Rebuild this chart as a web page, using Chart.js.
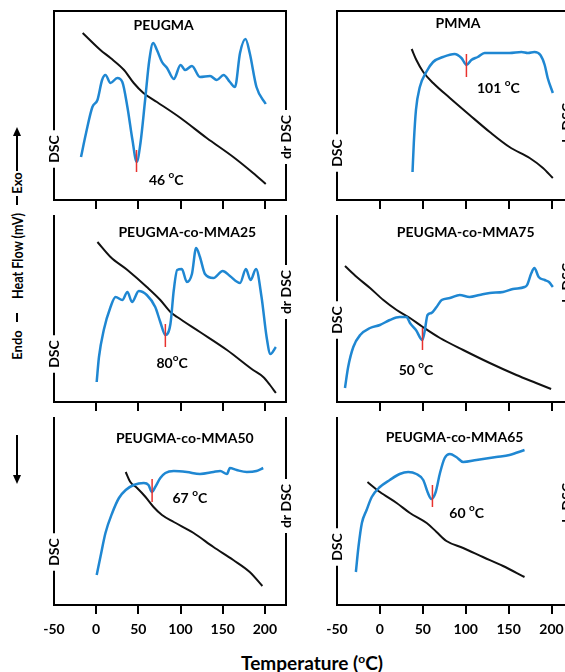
<!DOCTYPE html>
<html>
<head>
<meta charset="utf-8">
<script src="https://cdn.jsdelivr.net/npm/chart.js@4.4.1/dist/chart.umd.min.js"></script>
<style>
  html, body { margin: 0; padding: 0; width: 565px; height: 672px; overflow: hidden; background: #fff; }
  body { position: relative; font-family: Lato, "Open Sans", sans-serif; color: #000; }
  .pane { position: absolute; }
  .rot { position: absolute; transform: translate(-50%, -50%) rotate(-90deg); white-space: nowrap; font-weight: bold; line-height: 1; font-size: 13px; }
  .rot.big { font-size: 15px; transform: translate(-50%, -50%) rotate(-90deg) scale(0.84, 1); }
  .bar { position: absolute; background: #000; }
  .head-up { position: absolute; width: 0; height: 0; border-left: 4px solid transparent; border-right: 4px solid transparent; border-bottom: 9px solid #000; }
  .head-down { position: absolute; width: 0; height: 0; border-left: 4px solid transparent; border-right: 4px solid transparent; border-top: 9px solid #000; }
  .xtitle { position: absolute; left: 312px; top: 662px; transform: translate(-50%, -50%); font-weight: bold; font-size: 19px; white-space: nowrap; }
  sup { font-size: 12px; vertical-align: 7px; line-height: 0; }
</style>
</head>
<body>

<div class="bar" style="left:16px; top:134px; width:2px; height:37px;"></div>
<div class="head-up" style="left:13px; top:127px;"></div>
<div class="rot" style="left:17px; top:183px;">Exo</div>
<div class="bar" style="left:16px; top:196px; width:2px; height:9px;"></div>
<div class="rot big" style="left:17px; top:256px;">Heat Flow (mV)</div>
<div class="bar" style="left:16px; top:313px; width:2px; height:9px;"></div>
<div class="rot" style="left:17px; top:345px;">Endo</div>
<div class="bar" style="left:16px; top:435px; width:2px; height:41px;"></div>
<div class="head-down" style="left:13px; top:475px;"></div>
<div class="xtitle">Temperature (<sup>o</sup>C)</div>

<script>
// PEUGMA
const peugmaT = [-18, -12, -4.5, 1.5, 7, 11, 17, 25, 31, 37, 43, 48, 52.5, 58, 63, 67.5, 72, 78, 84, 92, 100, 105.5, 113.5, 123, 135, 143, 151, 158.5, 164.5, 170.5, 177, 182, 190, 201];
const peugmaDsc = [43, 67, 93, 100, 120, 125, 117, 122, 118, 93, 60, 38, 57, 100, 140, 157, 150, 138, 132, 121, 135, 130, 134, 123, 124, 120, 125, 118, 113, 147, 161, 147, 113, 96];
const peugmaDrT = [-16, 5, 17, 33, 44.5, 56, 72, 100, 131, 162.5, 186, 201];
const peugmaDr = [167, 150, 142, 130, 117, 107, 98, 82, 62, 43, 27, 16];

// PMMA
const pmmaT = [38, 39.5, 42, 46.5, 54, 62, 73.5, 87, 95, 101, 106.5, 114, 122, 136, 151, 165, 172.5, 180, 187, 192, 195.5, 201.5];
const pmmaDsc = [28, 57, 90, 113, 128, 138, 143, 146, 142, 135, 140, 143, 147, 147, 147, 148, 147, 148, 145, 135, 122, 107];
const pmmaDrT = [37, 42.5, 50.5, 62, 81.5, 104.5, 128, 151, 174.5, 190, 201.5];
const pmmaDr = [151, 140, 128, 117, 102, 85, 68, 53, 42, 32, 22];

// PEUGMA-co-MMA25
const mma25T = [0.6, 3.3, 9, 17, 23, 31, 37, 42.5, 50.5, 60, 70, 76, 82, 88, 92, 96, 101.5, 107.5, 113.5, 118.5, 123, 129, 139, 150, 158.5, 170.5, 177.5, 183, 189.5, 196, 202, 206.5, 213];
const mma25Dsc = [20, 45, 72, 95, 105, 102, 110, 100, 111, 107, 95, 80, 67, 78, 112, 132, 133, 120, 128, 154, 145, 128, 124, 131, 126, 119, 133, 122, 133, 105, 65, 48, 55];
const mma25DrT = [1.5, 17, 37, 60, 76, 88, 96, 123, 155, 186, 198, 206, 213];
const mma25Dr = [160, 145, 132, 115, 102, 90, 85, 70, 52, 32, 25, 17, 9];

// PEUGMA-co-MMA75
const mma75T = [-40.7, -37, -31, -23, -11.5, 0, 11.5, 23, 31, 35, 42, 49.5, 52, 55.5, 60, 66, 72, 81.5, 93, 104.5, 116, 128, 143.5, 155, 168.5, 171.5, 176.5, 180, 185, 192, 197, 201.5];
const mma75Dsc = [14, 35, 55, 67, 74, 77, 82, 85, 85, 79, 72, 62, 70, 87, 89, 95, 102, 104, 107, 105, 107, 109, 110, 113, 115, 117, 129, 134, 125, 122, 120, 115];
const mma75DrT = [-40.7, -27, -11.5, 4, 19.5, 35, 50, 70, 97, 128, 159, 182, 199.5];
const mma75Dr = [136, 125, 114, 102, 92, 84, 75, 64, 52, 39, 27, 19, 13];

// PEUGMA-co-MMA50
const mma50T = [0.6, 5, 11, 19, 27, 35, 44.5, 56.5, 62, 66, 70, 76, 82, 92, 107.5, 123, 139, 147, 155, 158.5, 166.5, 178.5, 190, 198];
const mma50Dsc = [30, 48, 72, 92, 107, 115, 120, 122, 120, 113, 118, 127, 132, 134, 133, 131, 133, 134, 131, 137, 135, 133, 134, 137];
const mma50DrT = [35, 40.5, 48.5, 58.5, 68, 78, 92, 115.5, 139, 162.5, 182, 197];
const mma50Dr = [133, 123, 117, 108, 98, 90, 83, 72, 58, 45, 33, 19];

// PEUGMA-co-MMA65
const mma65T = [-28, -25, -21, -15.5, -9.5, 0, 11.5, 23, 33, 42.5, 50.5, 55.5, 60, 65, 70, 75.5, 81.5, 89, 97, 112.5, 135.5, 151, 168.5];
const mma65Dsc = [33, 58, 82, 95, 108, 118, 125, 131, 133, 131, 125, 113, 106, 113, 132, 147, 151, 148, 143, 145, 148, 150, 155];
const mma65DrT = [-14.5, 0, 19.5, 35, 54.5, 66, 77.5, 97, 120, 143.5, 168.5];
const mma65Dr = [123, 113, 102, 92, 82, 73, 64, 57, 48, 39, 28];

// glass transition: label text and red marker (temperature, low, high)
const tgLabels = ['46 ', '101 ', '80', '50 ', '67 ', '60 '];
const tgMarkT = [47.8, 100.8, 82, 49.6, 66.3, 61.2];
const tgMarkLo = [28, 123, 55, 52, 103, 98];
const tgMarkHi = [50, 146, 78, 74, 126, 120];

const titles = ['PEUGMA', 'PMMA', 'PEUGMA-co-MMA25', 'PEUGMA-co-MMA75', 'PEUGMA-co-MMA50', 'PEUGMA-co-MMA65'];
const tickLabelsX = [-50, 0, 50, 100, 150, 200];

const series = [
  [peugmaT, peugmaDsc, peugmaDrT, peugmaDr],
  [pmmaT, pmmaDsc, pmmaDrT, pmmaDr],
  [mma25T, mma25Dsc, mma25DrT, mma25Dr],
  [mma75T, mma75Dsc, mma75DrT, mma75Dr],
  [mma50T, mma50Dsc, mma50DrT, mma50Dr],
  [mma65T, mma65Dsc, mma65DrT, mma65Dr]
];

// layout
const cols = [
  { left: 54, right: 286, min: -50, max: 225 },
  { left: 337, right: 567, min: -50, max: 218 }
];
const rows = [
  { top: 11, bottom: 200 },
  { top: 216, bottom: 402 },
  { top: 418, bottom: 605 }
];
// label placement in data units: [x, y]
const titlePos = [[80, 175], [91, 177], [108, 170], [100, 170], [105, 167], [87, 168]];
const tgPos = [[83, 20], [138, 112], [90, 39], [42, 32], [111, 107], [101, 92]];
const dscLabelY = [51, 47, 48, 82, 53, 58];
const drLabelY = [63, 75, 110, 117, 99, 100];

const BLUE = '#1f87d2';
const FONT = 'Lato, "Open Sans", sans-serif';
const PAD = 20;

Chart.defaults.font.family = FONT;
Chart.defaults.color = '#000';

function pts(xs, ys) {
  return xs.map((x, i) => ({ x: x, y: ys[i] }));
}

function rotText(ctx, text, x, y) {
  ctx.save();
  ctx.translate(x, y);
  ctx.rotate(-Math.PI / 2);
  ctx.textAlign = 'center';
  ctx.textBaseline = 'middle';
  ctx.fillText(text, 0, 0);
  ctx.restore();
}

function vLineGap(ctx, x, top, bottom, gapCenter, gapHalf) {
  ctx.beginPath();
  ctx.moveTo(x, top);
  ctx.lineTo(x, gapCenter - gapHalf);
  ctx.moveTo(x, gapCenter + gapHalf);
  ctx.lineTo(x, bottom);
  ctx.stroke();
}

function degLabel(ctx, num, x, y) {
  const big = 'bold 14px ' + FONT, small = 'bold 10px ' + FONT;
  ctx.font = big;
  const w1 = ctx.measureText(num).width, w3 = ctx.measureText('C').width;
  ctx.font = small;
  const w2 = ctx.measureText('o').width;
  let cx = x - (w1 + w2 + w3) / 2;
  ctx.textAlign = 'left';
  ctx.textBaseline = 'middle';
  ctx.font = big;
  ctx.fillText(num, cx, y);
  cx += w1;
  ctx.font = small;
  ctx.fillText('o', cx, y - 5);
  cx += w2;
  ctx.font = big;
  ctx.fillText('C', cx, y);
}

const framePlugin = {
  id: 'frame',
  afterDraw(chart, args, o) {
    const { ctx, chartArea: a } = chart;
    const x = chart.scales.x, y = chart.scales.y;
    ctx.save();
    ctx.strokeStyle = '#000';
    ctx.fillStyle = '#000';
    ctx.lineWidth = 2;
    ctx.lineCap = 'square';
    ctx.font = 'bold 14px ' + FONT;

    const dy = y.getPixelForValue(o.dscY);
    const dh = ctx.measureText('DSC').width / 2 + 6;
    vLineGap(ctx, a.left, a.top, a.bottom, dy, dh);
    rotText(ctx, 'DSC', a.left, dy);

    const ry = y.getPixelForValue(o.drY);
    const rh = ctx.measureText('dr DSC').width / 2 + 6;
    vLineGap(ctx, a.right, a.top, a.bottom, ry, rh);
    rotText(ctx, 'dr DSC', a.right, ry);

    if (o.topLine) {
      ctx.beginPath();
      ctx.moveTo(a.left, a.top);
      ctx.lineTo(a.right, a.top);
      ctx.stroke();
    }

    ctx.font = 'bold 14px ' + FONT;
    ctx.textAlign = 'center';
    ctx.textBaseline = 'middle';
    ctx.fillText(o.title, x.getPixelForValue(o.titleAt[0]), y.getPixelForValue(o.titleAt[1]));

    degLabel(ctx, o.tg, x.getPixelForValue(o.tgAt[0]), y.getPixelForValue(o.tgAt[1]));
    ctx.restore();
  }
};

titles.forEach((title, i) => {
  const col = cols[i % 2], row = rows[Math.floor(i / 2)];
  const last = Math.floor(i / 2) === 2;
  const axisH = last ? 42 : 14;
  const w = col.right - col.left + PAD * 2;
  const h = row.bottom - row.top + PAD + axisH;

  const div = document.createElement('div');
  div.className = 'pane';
  div.style.left = (col.left - PAD) + 'px';
  div.style.top = (row.top - PAD) + 'px';
  const cv = document.createElement('canvas');
  cv.width = w;
  cv.height = h;
  cv.style.width = w + 'px';
  cv.style.height = h + 'px';
  div.appendChild(cv);
  document.body.appendChild(div);

  const [t, dsc, drT, dr] = series[i];
  const yMax = row.bottom - row.top;

  new Chart(cv.getContext('2d'), {
    type: 'line',
    data: {
      datasets: [
        { label: 'Tg', data: pts([tgMarkT[i], tgMarkT[i]], [tgMarkLo[i], tgMarkHi[i]]), borderColor: '#e8322e', borderWidth: 1.5, pointRadius: 0, yAxisID: 'y' },
        { label: 'DSC', data: pts(t, dsc), borderColor: BLUE, borderWidth: 2.5, pointRadius: 0, cubicInterpolationMode: 'monotone', yAxisID: 'y' },
        { label: 'dr DSC', data: pts(drT, dr), borderColor: '#111', borderWidth: 2, pointRadius: 0, cubicInterpolationMode: 'monotone', yAxisID: 'y2' }
      ]
    },
    options: {
      responsive: false,
      animation: false,
      events: [],
      devicePixelRatio: 1,
      layout: { padding: { left: PAD, right: PAD, top: PAD, bottom: 0 } },
      plugins: {
        legend: { display: false },
        tooltip: { enabled: false },
        frame: {
          title: title,
          titleAt: titlePos[i],
          tg: tgLabels[i],
          tgAt: tgPos[i],
          dscY: dscLabelY[i],
          drY: drLabelY[i],
          topLine: i < 2
        }
      },
      scales: {
        x: {
          type: 'linear',
          min: col.min,
          max: col.max,
          afterFit: s => { s.height = axisH; },
          afterBuildTicks: s => { s.ticks = tickLabelsX.map(v => ({ value: v })); },
          border: { display: true, color: '#000', width: 2 },
          grid: {
            drawOnChartArea: false,
            drawTicks: true,
            tickLength: 9,
            lineWidth: 2,
            color: c => (c.tick && c.tick.value === -50) ? 'rgba(0,0,0,0)' : '#000'
          },
          ticks: {
            display: last,
            includeBounds: false,
            autoSkip: false,
            maxRotation: 0,
            padding: 7,
            color: '#000',
            font: { family: FONT, size: 14, weight: 'bold' }
          }
        },
        y: { display: false, min: 0, max: yMax },
        y2: { display: false, min: 0, max: yMax, position: 'right' }
      }
    },
    plugins: [framePlugin]
  });
});
</script>
</body>
</html>
